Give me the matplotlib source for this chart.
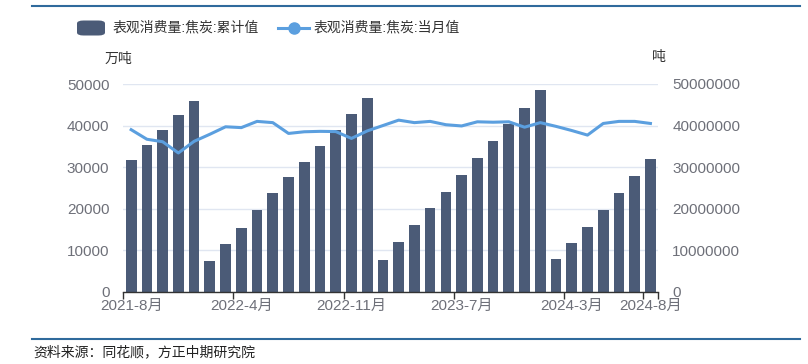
import matplotlib
matplotlib.use('Agg')
import matplotlib.pyplot as plt
from matplotlib.lines import Line2D
from matplotlib.patches import FancyBboxPatch
from matplotlib.ticker import FuncFormatter
import numpy as np

plt.rcParams['font.family'] = ['Liberation Sans', 'Noto Sans CJK SC', 'DejaVu Sans']

# months (Jan+Feb reported together, so January is absent)
months = (['2021-%d月' % m for m in range(8, 13)] +
          ['2022-%d月' % m for m in range(2, 13)] +
          ['2023-%d月' % m for m in range(2, 13)] +
          ['2024-%d月' % m for m in range(2, 9)])

# cumulative value, 万吨
cumulative = [31660, 35430, 39040, 42480, 46000,
              7380, 11390, 15390, 19560, 23650, 27500, 31340, 35190, 39040, 42710, 46560,
              7700, 11870, 16030, 20120, 24040, 28050, 32140, 36300, 40480, 44320, 48480,
              7930, 11780, 15630, 19640, 23800, 27880, 31900]

# monthly value, 吨
monthly = [39.0e6, 36.7e6, 36.1e6, 33.4e6, 36.2e6,
           37.9e6, 39.7e6, 39.5e6, 41.0e6, 40.7e6, 38.1e6, 38.5e6, 38.6e6, 38.55e6, 36.9e6, 38.7e6,
           40.0e6, 41.3e6, 40.7e6, 41.0e6, 40.2e6, 39.9e6, 40.9e6, 40.8e6, 40.9e6, 39.6e6, 40.7e6,
           39.8e6, 38.8e6, 37.7e6, 40.5e6, 41.0e6, 41.0e6, 40.5e6]

label_idx = [0, 7, 14, 21, 28, 33]

bar_col = '#4b5b77'
line_col = '#5b9fdf'
txt_col = '#6e7079'
grid_col = '#e0e6f1'

fig = plt.figure(figsize=(8.08, 3.64), dpi=100)
ax = fig.add_axes([123.3 / 808, 1 - 291.7 / 364, 535 / 808, 207.7 / 364])
ax2 = ax.twinx()

x = np.arange(len(months))
ax.bar(x, cumulative, width=0.68, color=bar_col, zorder=2)
ax2.plot(x, monthly, color=line_col, linewidth=2.2, zorder=3)

ax.set_xlim(-0.5, len(months) - 0.5)
ax.set_ylim(0, 50000)
ax2.set_ylim(0, 50000000)
ax.set_yticks(np.arange(0, 50001, 10000))
ax2.set_yticks(np.arange(0, 50000001, 10000000))
ax2.yaxis.set_major_formatter(FuncFormatter(lambda v, p: '%d' % v))
ax.yaxis.grid(True, color=grid_col, linewidth=1, zorder=0)
ax.set_axisbelow(True)

for a in (ax, ax2):
    for s in ('top', 'left', 'right', 'bottom'):
        a.spines[s].set_visible(False)
ax.spines['bottom'].set_visible(True)
ax.spines['bottom'].set_color('#333333')
ax.spines['bottom'].set_linewidth(1)

ax.tick_params(axis='y', length=0, labelsize=11, labelcolor=txt_col, pad=10)
ax2.tick_params(axis='y', length=0, labelsize=11, labelcolor=txt_col, pad=10)

bounds = [i - 0.5 for i in label_idx] + [len(months) - 0.5]
ax.set_xticks(bounds)
ax.set_xticklabels([''] * len(bounds))
ax.tick_params(axis='x', which='major', length=5, color='#333333', width=1)
ax.set_xticks(label_idx, minor=True)
ax.set_xticklabels([months[i] for i in label_idx], minor=True)
ax.tick_params(axis='x', which='minor', length=0, labelsize=11, labelcolor=txt_col, pad=5)

fig.text(105 / 808, 1 - 59 / 364, '万吨', fontsize=10, color='#333333', va='center', ha='left')
fig.text(652 / 808, 1 - 57 / 364, '吨', fontsize=10, color='#333333', va='center', ha='left')

# legend drawn by hand so the bar swatch can have round corners
ly = 1 - 27.5 / 364
fig.add_artist(FancyBboxPatch((77 / 808, 1 - 35.5 / 364), 28 / 808, 15 / 364,
                              boxstyle='round,pad=0,rounding_size=0.008',
                              facecolor=bar_col, edgecolor='none', transform=fig.transFigure))
fig.text(113 / 808, ly, '表观消费量:焦炭:累计值', fontsize=10, color='#333333', va='center', ha='left')
fig.add_artist(Line2D([278 / 808, 309 / 808], [ly, ly], color=line_col, linewidth=2.2))
fig.add_artist(Line2D([293.5 / 808], [ly], color=line_col, marker='o', markersize=8))
fig.text(314 / 808, ly, '表观消费量:焦炭:当月值', fontsize=10, color='#333333', va='center', ha='left')

# frame lines and source
fig.add_artist(Line2D([32 / 808, 800 / 808], [1 - 6 / 364, 1 - 6 / 364],
                      color='#2f6a9c', linewidth=1.5))
fig.add_artist(Line2D([32 / 808, 800 / 808], [1 - 339 / 364, 1 - 339 / 364],
                      color='#2f6a9c', linewidth=1.5))
fig.text(33 / 808, 1 - 352 / 364, '资料来源：同花顺，方正中期研究院', fontsize=10,
         color='#222222', va='center', ha='left', style='italic')

fig.savefig('out.png', dpi=100)
